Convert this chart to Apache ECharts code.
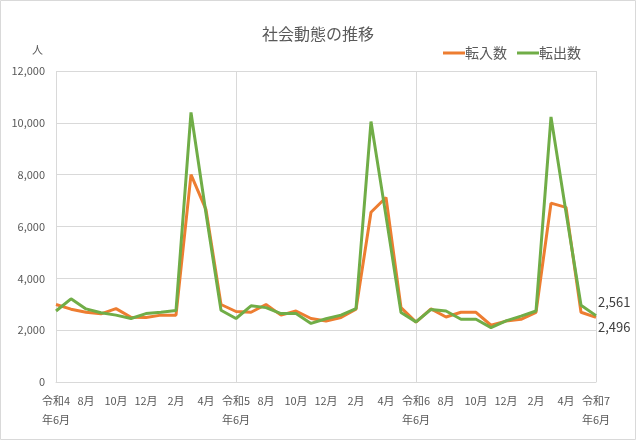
<!DOCTYPE html>
<html>
<head>
<meta charset="utf-8">
<script src="https://cdn.jsdelivr.net/npm/echarts@6/dist/echarts.min.js"></script>
<style>
html,body{margin:0;padding:0;background:#fff;}
#c{width:636px;height:440px;}
</style>
</head>
<body>
<div id="c"></div>
<script>
const categories = [
  '令和4\n年6月','7月','8月','9月','10月','11月','12月','1月','2月','3月','4月','5月',
  '令和5\n年6月','7月','8月','9月','10月','11月','12月','1月','2月','3月','4月','5月',
  '令和6\n年6月','7月','8月','9月','10月','11月','12月','1月','2月','3月','4月','5月',
  '令和7\n年6月'
];
const tennyu = [
  2990, 2810, 2690, 2630, 2830, 2500, 2490, 2580, 2580, 8000, 6650, 2990,
  2720, 2690, 2990, 2580, 2740, 2450, 2350, 2490, 2810, 6550, 7120, 2870,
  2310, 2820, 2510, 2690, 2690, 2190, 2350, 2420, 2690, 6900, 6740, 2690,
  2496
];
const tenshutsu = [
  2740, 3210, 2820, 2670, 2580, 2450, 2640, 2690, 2760, 10400, 6500, 2770,
  2450, 2940, 2870, 2640, 2640, 2260, 2440, 2580, 2830, 10050, 6400, 2680,
  2320, 2800, 2740, 2420, 2420, 2100, 2360, 2540, 2740, 10230, 6550, 2960,
  2561
];
const seriesNames = ['転入数', '転出数'];
const yTicks = { min: 0, max: 12000, interval: 2000 };

const FONT = '"Noto Sans CJK JP", "Noto Sans", sans-serif';
const fmt = v => Number(v).toLocaleString('en-US');
const lastVal = p => {
  const v = Array.isArray(p.value) ? p.value[p.value.length - 1] : p.value;
  return fmt(v);
};

const chart = echarts.init(document.getElementById('c'));
chart.setOption({
  animation: false,
  textStyle: { fontFamily: FONT },
  title: {
    text: '社会動態の推移',
    left: 'center', top: 21,
    textStyle: { fontFamily: FONT, fontSize: 16, fontWeight: 'normal', color: '#595959' }
  },
  legend: {
    data: seriesNames,
    left: 438, top: 41,
    icon: 'rect', itemWidth: 22, itemHeight: 3, itemGap: 10,
    textStyle: { fontFamily: FONT, fontSize: 14, color: '#595959', padding: [0, 0, 0, -5] }
  },
  graphic: [
    { type: 'rect', shape: { x: 0.5, y: 0.5, width: 635, height: 439 },
      style: { fill: 'none', stroke: '#d9d9d9', lineWidth: 1 }, silent: true },
    { type: 'text', left: 32, top: 44,
      style: { text: '人', font: '11px ' + FONT, fill: '#595959' } }
  ],
  grid: { left: 56, right: 40, top: 71, bottom: 58, containLabel: false },
  xAxis: {
    type: 'category',
    data: categories,
    boundaryGap: false,
    axisLine: { lineStyle: { color: '#d9d9d9', width: 1 } },
    axisTick: { show: false },
    axisLabel: {
      interval: 1, margin: 9, fontSize: 11, lineHeight: 19, color: '#595959',
      align: 'center', verticalAlign: 'top', fontFamily: FONT
    },
    splitLine: {
      show: true,
      interval: (idx) => idx % 12 === 0,
      lineStyle: { color: '#d9d9d9', width: 1 }
    }
  },
  yAxis: {
    type: 'value',
    min: yTicks.min, max: yTicks.max, interval: yTicks.interval,
    axisLine: { show: false },
    axisTick: { show: false },
    axisLabel: { margin: 11, fontSize: 11, color: '#595959', fontFamily: FONT,
      formatter: v => fmt(v) },
    splitLine: { lineStyle: { color: '#d9d9d9', width: 1 } }
  },
  series: [
    {
      name: seriesNames[0], type: 'line', data: tennyu,
      showSymbol: false, symbol: 'none',
      lineStyle: { color: '#ED7D31', width: 3 },
      itemStyle: { color: '#ED7D31' },
      z: 2,
      endLabel: {
        show: true, distance: 2, offset: [0, 10],
        fontSize: 13, color: '#404040', fontFamily: FONT,
        formatter: lastVal
      }
    },
    {
      name: seriesNames[1], type: 'line', data: tenshutsu,
      showSymbol: false, symbol: 'none',
      lineStyle: { color: '#70AD47', width: 3 },
      itemStyle: { color: '#70AD47' },
      z: 3,
      endLabel: {
        show: true, distance: 2, offset: [0, -14],
        fontSize: 13, color: '#404040', fontFamily: FONT,
        formatter: lastVal
      }
    }
  ]
});
</script>
</body>
</html>
